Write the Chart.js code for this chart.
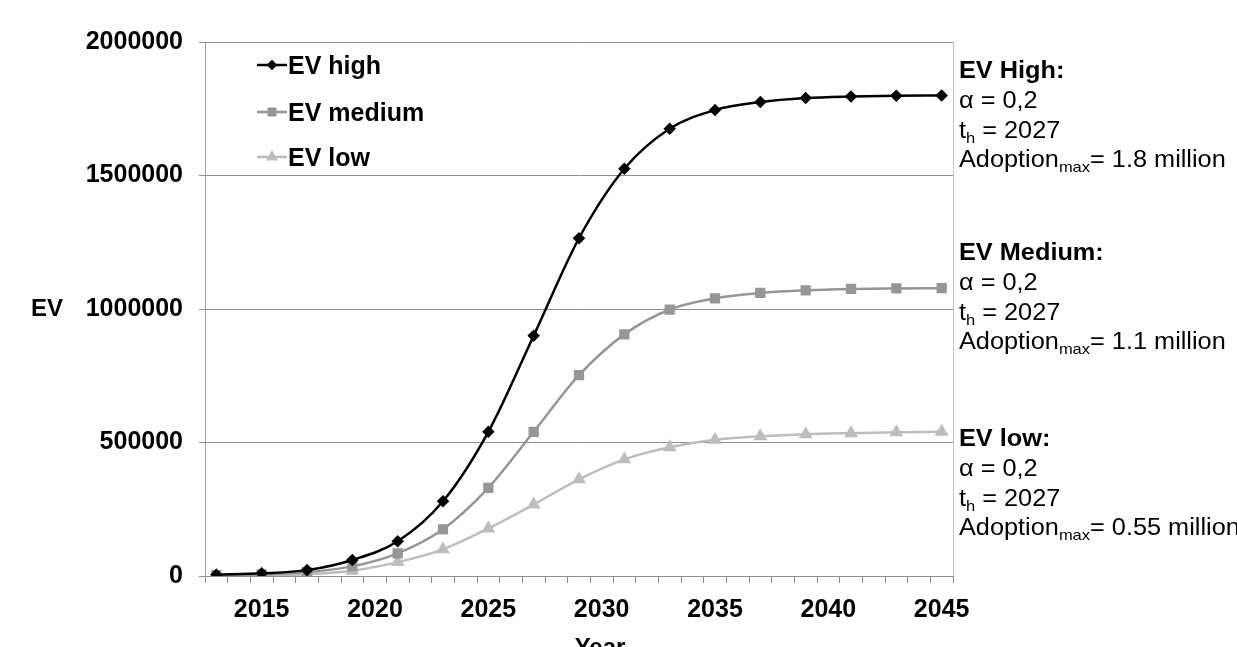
<!DOCTYPE html>
<html>
<head>
<meta charset="utf-8">
<script src="https://cdn.jsdelivr.net/npm/chart.js@4"></script>
<style>
  body { margin: 0; background: #fff; }
  #wrap { width: 1237px; height: 647px; }
</style>
</head>
<body>
<div id="wrap"><canvas id="myChart"></canvas></div>
<script>
// category labels on the x axis (one per year)
var yearLabels = ['2013','2014','2015','2016','2017','2018','2019','2020','2021','2022','2023',
  '2024','2025','2026','2027','2028','2029','2030','2031','2032','2033','2034','2035','2036',
  '2037','2038','2039','2040','2041','2042','2043','2044','2045'];
// years that carry a data point
var pointYears = ['2013','2015','2017','2019','2021','2023','2025','2027','2029','2031','2033',
  '2035','2037','2039','2041','2043','2045'];
var evHigh = [5000, 10000, 22000, 60000, 130000, 280000, 540000, 900000, 1265000, 1525000,
  1675000, 1745000, 1775000, 1790000, 1796000, 1799000, 1800000];
var evMedium = [3000, 6000, 14000, 36000, 85000, 175000, 330000, 540000, 752000, 905000,
  998000, 1040000, 1060000, 1070000, 1075000, 1077000, 1078000];
var evLow = [1500, 3000, 7000, 20000, 52000, 100000, 178000, 268000, 362000, 437000,
  482000, 510000, 523000, 531000, 535000, 538000, 540000];
var yTicks = [0, 500000, 1000000, 1500000, 2000000];

var FONT = '"Liberation Sans", Arial, sans-serif';

function pts(vals) {
  return pointYears.map(function (y, i) { return { x: y, y: vals[i] }; });
}

// right-hand notes
var notes = [
  { title: 'EV High:', max: '= 1.8 million', y: 72 },
  { title: 'EV Medium:', max: '= 1.1 million', y: 254 },
  { title: 'EV low:', max: '= 0.55 million', y: 440 }
];

function drawParts(ctx, parts, x, y) {
  parts.forEach(function (p) {
    ctx.font = p[1];
    ctx.fillText(p[0], x, y + (p[2] || 0));
    x += ctx.measureText(p[0]).width;
  });
}

var extras = {
  id: 'extras',
  beforeDatasetsDraw: function (chart) {
    var ctx = chart.ctx, a = chart.chartArea;
    ctx.save();
    ctx.strokeStyle = '#c8c8c8';
    ctx.lineWidth = 1;
    ctx.beginPath();
    ctx.moveTo(a.right + 0.5, a.top);
    ctx.lineTo(a.right + 0.5, a.bottom);
    ctx.stroke();
    ctx.restore();
  },
  afterDraw: function (chart) {
    var ctx = chart.ctx;
    ctx.save();
    ctx.fillStyle = '#000';
    ctx.textBaseline = 'middle';
    // axis titles
    ctx.font = 'bold 24px ' + FONT;
    ctx.textAlign = 'left';
    ctx.fillText('EV', 31, 309);
    ctx.textAlign = 'center';
    ctx.fillText('Year', 600, 648);
    ctx.textAlign = 'left';

    // legend
    var legY = [65, 112, 157];
    chart.data.datasets.forEach(function (ds, i) {
      var y = legY[i];
      ctx.strokeStyle = ds.borderColor;
      ctx.lineWidth = 2.5;
      ctx.beginPath();
      ctx.moveTo(257, y);
      ctx.lineTo(287, y);
      ctx.stroke();
      ctx.fillStyle = ds.pointBackgroundColor;
      ctx.strokeStyle = ds.borderColor;
      Chart.helpers.drawPoint(ctx, { pointStyle: ds.pointStyle, radius: ds.pointRadius - 1, borderWidth: 1, rotation: 0 }, 272, y);
      ctx.fillStyle = '#000';
      ctx.font = 'bold 25px ' + FONT;
      ctx.fillText(ds.label, 288, y + 2);
    });

    // notes on the right (text in the reference is slightly wide)
    var reg = '23px ' + FONT, sub = '15px ' + FONT;
    ctx.translate(959, 0);
    ctx.scale(1.1, 1);
    notes.forEach(function (n) {
      var y = n.y;
      ctx.font = 'bold 23px ' + FONT;
      ctx.fillText(n.title, 0, y);
      drawParts(ctx, [['\u03b1 = 0,2', reg]], 0, y + 30);
      drawParts(ctx, [['t', reg], ['h', sub, 7], [' = 2027', reg]], 0, y + 60);
      drawParts(ctx, [['Adoption', reg], ['max', sub, 7], [n.max, reg]], 0, y + 89);
    });
    ctx.restore();
  }
};

var ctx = document.getElementById('myChart').getContext('2d');
var myChart = new Chart(ctx, {
  type: 'line',
  data: {
    labels: yearLabels,
    datasets: [{
      label: 'EV high',
      data: pts(evHigh),
      borderColor: '#000000',
      pointBackgroundColor: '#000000',
      pointStyle: 'rectRot',
      pointRadius: 4.5,
      borderWidth: 2.5
    }, {
      label: 'EV medium',
      data: pts(evMedium),
      borderColor: '#969696',
      pointBackgroundColor: '#969696',
      pointStyle: 'rect',
      pointRadius: 5.5,
      borderWidth: 2.5
    }, {
      label: 'EV low',
      data: pts(evLow),
      borderColor: '#bdbdbd',
      pointBackgroundColor: '#bdbdbd',
      pointStyle: 'triangle',
      pointRadius: 5.5,
      borderWidth: 2.5
    }]
  },
  options: {
    responsive: true,
    maintainAspectRatio: false,
    animation: false,
    cubicInterpolationMode: 'monotone',
    layout: { padding: { left: 0, right: 284, top: 42, bottom: 0 } },
    plugins: {
      legend: { display: false },
      tooltip: { enabled: false }
    },
    scales: {
      x: {
        type: 'category',
        offset: true,
        grid: { drawOnChartArea: false, drawTicks: true, tickLength: 7, color: '#8c8c8c', offset: true },
        border: { color: '#8c8c8c' },
        ticks: {
          autoSkip: false,
          maxRotation: 0,
          padding: 12,
          color: '#000',
          font: { family: FONT, size: 25, weight: 'bold' },
          callback: function (v) {
            var yr = Number(this.getLabelForValue(v));
            return yr % 5 === 0 ? String(yr) : '';
          }
        },
        afterFit: function (s) { s.height = 71; }
      },
      y: {
        min: 0,
        max: 2000000,
        afterBuildTicks: function (s) { s.ticks = yTicks.map(function (v) { return { value: v }; }); },
        grid: { color: '#8c8c8c', tickLength: 6 },
        border: { color: '#a0a0a0' },
        ticks: {
          padding: 16,
          color: '#000',
          font: { family: FONT, size: 25, weight: 'bold' },
          callback: function (v) { return String(v); }
        },
        afterFit: function (s) { s.width = 205; }
      }
    }
  },
  plugins: [extras]
});
</script>
</body>
</html>
